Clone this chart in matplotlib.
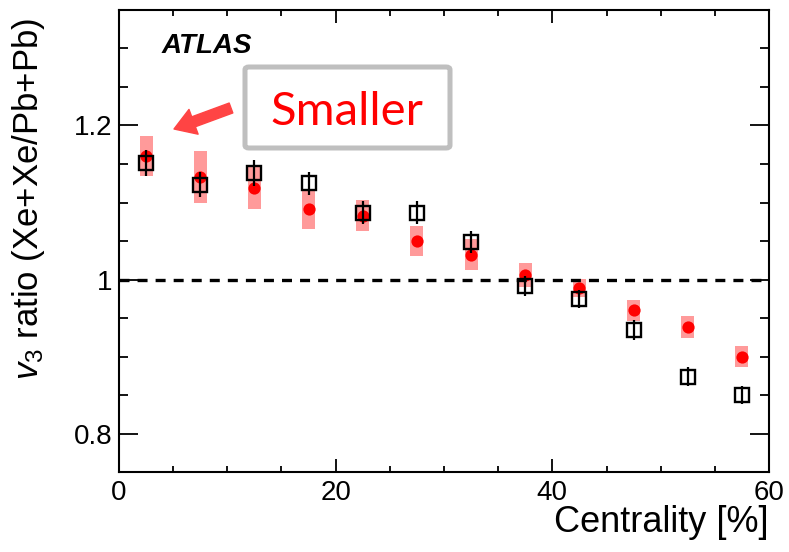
import numpy as np
import matplotlib
matplotlib.use('Agg')
import matplotlib.pyplot as plt
from matplotlib.patches import FancyBboxPatch
from matplotlib.ticker import MultipleLocator, FuncFormatter

plt.rcParams['font.family'] = ['Liberation Sans', 'DejaVu Sans']
plt.rcParams['mathtext.fontset'] = 'custom'
plt.rcParams['mathtext.rm'] = 'Liberation Sans'
plt.rcParams['mathtext.it'] = 'Liberation Sans:italic'
plt.rcParams['lines.scale_dashes'] = False

# centrality bins (bin centres, %)
cent = [2.5, 7.5, 12.5, 17.5, 22.5, 27.5, 32.5, 37.5, 42.5, 47.5, 52.5, 57.5]

# red points: measured v3 ratio with systematic band (half height)
ratio_red = [1.161, 1.133, 1.119, 1.091, 1.083, 1.050, 1.032, 1.006, 0.989, 0.960, 0.938, 0.900]
sys_red = [0.026, 0.034, 0.028, 0.025, 0.020, 0.020, 0.020, 0.016, 0.012, 0.014, 0.014, 0.014]

# open squares: model v3 ratio with error
ratio_sq = [1.151, 1.123, 1.138, 1.125, 1.087, 1.087, 1.049, 0.991, 0.975, 0.935, 0.874, 0.850]
err_sq = [0.017, 0.016, 0.017, 0.015, 0.015, 0.015, 0.014, 0.013, 0.012, 0.013, 0.012, 0.012]

fig = plt.figure(figsize=(7.89, 5.52), dpi=100)
ax = fig.add_axes([0.1508, 0.1449, 0.8239, 0.8370])

ratio_red = np.array(ratio_red)
sys_red = np.array(sys_red)

ax.bar(cent, 2 * sys_red, bottom=ratio_red - sys_red, width=1.2,
       color='#ff9a9a', edgecolor='none', zorder=1)
ax.plot(cent, ratio_red, 'o', color='#ff0000', markersize=8.8,
        markeredgewidth=0, zorder=2)

ax.axhline(1.0, color='black', linewidth=2.4, dashes=(7.2, 5.8), zorder=3)

ax.errorbar(cent, ratio_sq, yerr=err_sq, fmt='none', ecolor='black',
            elinewidth=1.6, capsize=0, zorder=4)
ax.plot(cent, ratio_sq, 's', markersize=9.8, markerfacecolor='none',
        markeredgecolor='black', markeredgewidth=1.7, zorder=5)

ax.set_xlim(0, 60)
ax.set_ylim(0.75, 1.35)

ax.xaxis.set_major_locator(MultipleLocator(20))
ax.xaxis.set_minor_locator(MultipleLocator(5))
ax.yaxis.set_major_locator(MultipleLocator(0.2))
ax.yaxis.set_minor_locator(MultipleLocator(0.05))
ax.yaxis.set_major_formatter(FuncFormatter(lambda v, p: '%g' % round(v, 2)))

ax.tick_params(axis='both', which='both', direction='in', top=True, right=True,
               width=1.3, labelsize=20)
ax.tick_params(axis='x', which='major', length=9.4, pad=6)
ax.tick_params(axis='x', which='minor', length=4.3)
ax.tick_params(axis='y', which='major', length=13.7, pad=5)
ax.tick_params(axis='y', which='minor', length=6.5)
for s in ax.spines.values():
    s.set_linewidth(1.5)

ax.set_xlabel('Centrality [%]', fontsize=26, loc='right')
ax.xaxis.set_label_coords(1.0, -0.072)
ax.set_ylabel('$v_3$ ratio (Xe+Xe/Pb+Pb)', fontsize=25)
ax.yaxis.set_label_coords(-0.11, 0.59)

ax.text(0.066, 0.907, 'ATLAS', transform=ax.transAxes, fontsize=20,
        fontweight='bold', fontstyle='italic', va='baseline', ha='left')

# annotation box
box = FancyBboxPatch((245 / 789, (552 - 148) / 552), 205 / 789, 81 / 552,
                     boxstyle='round,pad=0,rounding_size=0.005',
                     transform=fig.transFigure, facecolor='white',
                     edgecolor='#bfbfbf', linewidth=3.6, zorder=10)
fig.patches.append(box)
fig.text(347 / 789, (552 - 125) / 552, 'Smaller', color='#ff0000',
         fontsize=34, family=['Lato', 'DejaVu Sans'], ha='center',
         va='baseline', zorder=11)

ax.annotate('', xy=(174, 552 - 129), xytext=(231, 552 - 108),
            xycoords='figure pixels', textcoords='figure pixels',
            arrowprops=dict(arrowstyle='simple,head_length=0.75,head_width=0.95,tail_width=0.38',
                            mutation_scale=20, color='#ff4444',
                            shrinkA=0, shrinkB=0))

fig.savefig('out.png', dpi=100)
